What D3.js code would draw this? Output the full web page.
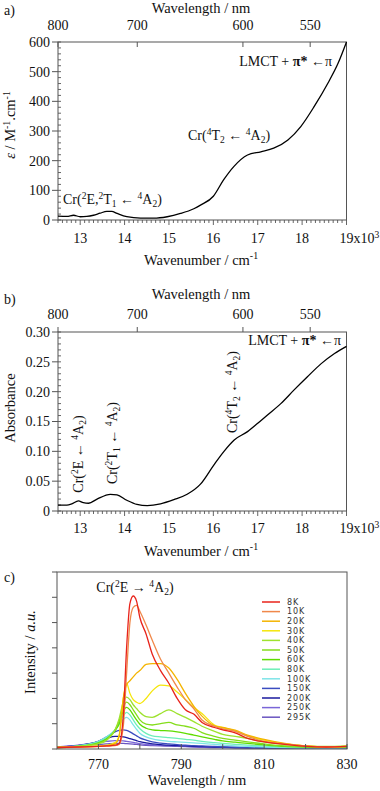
<!DOCTYPE html>
<html><head><meta charset="utf-8">
<script src="https://cdn.jsdelivr.net/npm/d3@7"></script>
<style>html,body{margin:0;padding:0;background:#fff;}svg{display:block;font-family:"Liberation Serif","Times New Roman",serif;}</style>
</head><body>
<svg id="chart" width="380" height="791"></svg>
<script>
// ---------- DATA ----------
const wnTicks = [13, 14, 15, 16, 17, 18, 19];      // 10^3 cm-1
const nmTicks = [800, 700, 600, 550];
const epsTicks = [0, 100, 200, 300, 400, 500, 600];
const absTicks = [0, 0.05, 0.10, 0.15, 0.20, 0.25, 0.30];
const absTickLabels = ["0", "0.05", "0.10", "0.15", "0.20", "0.25", "0.30"];

// panel a: molar absorptivity vs wavenumber (10^3 cm-1)
const epsWn  = [12.5, 12.7, 12.85, 13.0, 13.15, 13.3, 13.45, 13.6, 13.71, 13.83, 14.05, 14.36, 14.66, 14.96, 15.26, 15.56, 15.71, 16.0, 16.23, 16.46, 16.77, 17.07, 17.36, 17.68, 17.97, 18.27, 18.58, 18.81, 19.0];
const epsVal = [13, 12, 16, 11, 12, 16, 23, 29, 29, 22, 11, 6, 6, 11, 22, 38, 50, 80, 135, 180, 219, 230, 242, 270, 315, 382, 461, 528, 600];

// panel b: absorbance vs wavenumber
const absWn  = [12.5, 12.7, 12.81, 12.96, 13.07, 13.19, 13.38, 13.68, 13.83, 14.05, 14.28, 14.51, 14.81, 15.11, 15.41, 15.71, 16.01, 16.24, 16.47, 16.77, 17.0, 17.22, 17.52, 17.82, 18.12, 18.43, 18.73, 19.0];
const absVal = [0.010, 0.010, 0.012, 0.017, 0.014, 0.013, 0.020, 0.028, 0.027, 0.018, 0.011, 0.009, 0.012, 0.019, 0.028, 0.045, 0.077, 0.100, 0.119, 0.133, 0.147, 0.161, 0.180, 0.203, 0.225, 0.247, 0.264, 0.276];

// panel c: emission spectra
const wlTicks = [770, 790, 810, 830];
const wlMinor = [770, 780, 790, 800, 810, 820, 830];
const intTicks = [0, 1, 2, 3, 4, 5, 6, 7];
const wl = [760, 765, 770, 772, 774, 775, 776, 776.8, 777.6, 778.4, 779.2, 780, 781.5, 783, 785, 787, 789, 791, 793, 795, 798, 800, 803, 806, 810, 815, 820, 825, 830];
const temps = ["8K", "10K", "20K", "30K", "40K", "50K", "60K", "80K", "100K", "150K", "200K", "250K", "295K"];
const tempColors = ["#e8231b", "#f0884a", "#f4b400", "#f5e60a", "#9ee22e", "#84dd1c", "#5fdc00", "#6cefb8", "#7fe4e8", "#3b4cc0", "#1a1a9e", "#7a66d8", "#6a55c0"];
const I8K   = [0.06,0.08,0.10,0.12,0.15,0.22,1.30,4.00,5.75,6.05,5.85,5.20,4.55,3.75,3.10,2.60,2.00,1.55,1.38,1.05,0.85,0.76,0.64,0.42,0.28,0.18,0.10,0.08,0.10];
const I10K  = [0.06,0.08,0.10,0.11,0.13,0.18,0.90,3.00,5.00,5.60,5.68,5.45,4.90,4.30,3.55,3.00,2.45,1.95,1.60,1.15,0.90,0.80,0.70,0.50,0.30,0.20,0.12,0.08,0.10];
const I20K  = [0.06,0.08,0.10,0.13,0.20,0.50,2.00,2.55,2.70,2.85,3.00,3.10,3.35,3.38,3.38,3.20,2.75,2.20,1.70,1.30,0.92,0.85,0.75,0.55,0.38,0.22,0.12,0.08,0.10];
const I30K  = [0.06,0.08,0.12,0.15,0.25,0.55,2.00,2.60,2.20,1.95,1.85,1.80,2.00,2.30,2.53,2.50,2.25,1.95,1.65,1.40,0.95,0.85,0.72,0.52,0.35,0.20,0.12,0.08,0.10];
const I40K  = [0.06,0.10,0.20,0.35,0.75,1.20,1.85,2.05,1.95,1.75,1.60,1.45,1.28,1.25,1.40,1.55,1.40,1.25,1.08,0.90,0.70,0.58,0.50,0.42,0.28,0.18,0.12,0.10,0.12];
const I50K  = [0.06,0.10,0.22,0.38,0.75,1.10,1.65,1.85,1.75,1.55,1.35,1.15,0.98,0.95,1.00,1.05,0.95,0.90,0.82,0.65,0.50,0.42,0.35,0.28,0.20,0.12,0.09,0.08,0.10];
const I60K  = [0.06,0.10,0.24,0.40,0.72,1.00,1.50,1.65,1.55,1.35,1.15,0.98,0.82,0.76,0.73,0.72,0.68,0.62,0.55,0.48,0.38,0.32,0.27,0.22,0.16,0.10,0.08,0.07,0.08];
const I80K  = [0.06,0.12,0.28,0.45,0.75,1.00,1.32,1.45,1.35,1.15,0.95,0.80,0.62,0.52,0.48,0.45,0.42,0.38,0.35,0.30,0.25,0.22,0.18,0.15,0.12,0.08,0.07,0.06,0.07];
const I100K = [0.06,0.12,0.30,0.48,0.75,0.95,1.18,1.25,1.15,0.95,0.78,0.62,0.48,0.40,0.34,0.30,0.28,0.26,0.24,0.22,0.18,0.15,0.12,0.10,0.08,0.06,0.05,0.05,0.05];
const I150K = [0.05,0.10,0.30,0.48,0.68,0.74,0.76,0.74,0.68,0.60,0.52,0.44,0.35,0.28,0.23,0.20,0.17,0.15,0.13,0.12,0.10,0.08,0.07,0.06,0.05,0.05,0.04,0.04,0.05];
const I200K = [0.07,0.13,0.30,0.42,0.50,0.50,0.48,0.45,0.41,0.37,0.33,0.29,0.24,0.20,0.17,0.15,0.13,0.12,0.10,0.09,0.08,0.07,0.06,0.05,0.05,0.04,0.04,0.04,0.04];
const I250K = [0.08,0.15,0.25,0.30,0.33,0.33,0.32,0.30,0.28,0.26,0.24,0.21,0.18,0.16,0.14,0.12,0.11,0.10,0.09,0.08,0.07,0.06,0.05,0.05,0.04,0.04,0.04,0.04,0.04];
const I295K = [0.08,0.12,0.18,0.20,0.22,0.22,0.22,0.21,0.20,0.19,0.18,0.16,0.14,0.13,0.12,0.11,0.10,0.09,0.08,0.07,0.06,0.06,0.05,0.05,0.04,0.04,0.04,0.04,0.04];
const intensities = [I8K, I10K, I20K, I30K, I40K, I50K, I60K, I80K, I100K, I150K, I200K, I250K, I295K];

// ---------- DRAW ----------
const svg = d3.select("#chart");
const SERIF = "Liberation Serif";
const SANS = "DejaVu Sans";
const AX = "#555";

// rich text: {^x} superscript, {_x} subscript, {*x} bold, {/x} italic
function rich(sel, str, size) {
  const re = /\{([\^_*\/])([^}]*)\}/g;
  let last = 0, m, cur = 0;
  const parts = [];
  while ((m = re.exec(str)) !== null) {
    if (m.index > last) parts.push({t: str.slice(last, m.index), k: ""});
    parts.push({t: m[2], k: m[1]});
    last = re.lastIndex;
  }
  if (last < str.length) parts.push({t: str.slice(last), k: ""});
  parts.forEach(p => {
    let off = 0, fs = size, fw = null, fst = null;
    if (p.k === "^") { off = -size * 0.38; fs = size * 0.68; }
    if (p.k === "_") { off = size * 0.22; fs = size * 0.68; }
    if (p.k === "*") fw = "bold";
    if (p.k === "/") fst = "italic";
    const ts = sel.append("tspan").attr("dy", (off - cur).toFixed(2)).attr("font-size", fs).text(p.t);
    if (fw) ts.attr("font-weight", fw);
    if (fst) ts.attr("font-style", fst);
    cur = off;
  });
  return sel;
}
function txt(x, y, str, size, anchor, rot) {
  const t = svg.append("text")
    .attr("font-family", SERIF).attr("font-size", size).attr("fill", "#111")
    .attr("text-anchor", anchor || "start");
  if (rot) t.attr("transform", `translate(${x},${y}) rotate(${rot})`).attr("x", 0).attr("y", 0);
  else t.attr("x", x).attr("y", y);
  rich(t, str, size);
  return t;
}

function absorptionPanel(cfg) {
  const {L, R, T, B, yDomain, yTicks, yLabels, yMinorStep, xs, ys, label, yTitle} = cfg;
  const x = d3.scaleLinear().domain([12.5, 19]).range([L, R]);
  const y = d3.scaleLinear().domain(yDomain).range([B, T]);
  const g = svg.append("g");
  g.append("rect").attr("x", L).attr("y", T).attr("width", R - L).attr("height", B - T)
    .attr("fill", "none").attr("stroke", AX).attr("stroke-width", 1);
  const minor = d3.range(125, 191).map(v => v / 10);
  g.selectAll(null).data(minor).enter().append("line")
    .attr("x1", d => x(d)).attr("x2", d => x(d)).attr("y1", B)
    .attr("y2", d => B + (Math.abs(d - Math.round(d)) < 1e-6 ? 5 : 3))
    .attr("stroke", AX).attr("stroke-width", 0.9);
  wnTicks.forEach(t => {
    const tx = svg.append("text").attr("font-family", SERIF).attr("font-size", 14).attr("fill", "#111")
      .attr("y", cfg.xLabelY);
    if (t === 19) { tx.attr("x", x(t) - 7).attr("text-anchor", "start"); rich(tx, "19x10{^3}", 14); }
    else tx.attr("x", x(t)).attr("text-anchor", "middle").text(t);
  });
  const yMin = d3.range(yDomain[0], yDomain[1] + yMinorStep / 2, yMinorStep);
  g.selectAll(null).data(yMin).enter().append("line")
    .attr("x1", L).attr("x2", L + 3).attr("y1", d => y(d)).attr("y2", d => y(d))
    .attr("stroke", AX).attr("stroke-width", 0.9);
  yTicks.forEach((t, i) => {
    g.append("line").attr("x1", L - 6).attr("x2", L).attr("y1", y(t)).attr("y2", y(t))
      .attr("stroke", AX).attr("stroke-width", 1);
    svg.append("text").attr("font-family", SERIF).attr("font-size", 14).attr("fill", "#111")
      .attr("x", L - 8).attr("y", y(t)).attr("dy", "0.35em").attr("text-anchor", "end").text(yLabels[i]);
  });
  nmTicks.forEach(n => {
    const px = x(1e4 / n);
    g.append("line").attr("x1", px).attr("x2", px).attr("y1", T).attr("y2", T + cfg.topTickDir * 5)
      .attr("stroke", AX).attr("stroke-width", 1);
    svg.append("text").attr("font-family", SERIF).attr("font-size", 14).attr("fill", "#111")
      .attr("x", px).attr("y", cfg.topLabelY).attr("text-anchor", "middle").text(n);
  });
  const pts = xs.map((v, i) => [v, ys[i]]);
  g.append("path").datum(pts)
    .attr("d", d3.line().x(d => x(d[0])).y(d => y(d[1])).curve(d3.curveMonotoneX))
    .attr("fill", "none").attr("stroke", "#000").attr("stroke-width", 1.3);
  txt(4, cfg.panelLabelY, label, 14, "start");
  txt(201, cfg.topTitleY, "Wavelength / nm", 14.5, "middle");
  txt(201, cfg.bottomTitleY, "Wavenumber / cm{^-1}", 14.5, "middle");
  txt(cfg.yTitleX, cfg.yTitleY, yTitle, 14.5, "middle", -90);
  return {x, y};
}

// Panel a
absorptionPanel({
  L: 58, R: 346.5, T: 42, B: 220, yDomain: [0, 600], yTicks: epsTicks,
  yLabels: epsTicks.map(String), yMinorStep: 20, xs: epsWn, ys: epsVal,
  label: "a)", yTitle: "{/ε} / M{^-1}.cm{^-1}", topTickDir: 1,
  xLabelY: 243, topLabelY: 30, panelLabelY: 15, topTitleY: 13, bottomTitleY: 265,
  yTitleX: 15, yTitleY: 125
});
txt(332, 66, "LMCT + {*π*} ←π", 14, "end");
txt(188, 140, "Cr({^4}T{_2} ← {^4}A{_2})", 14, "start");
txt(63, 204, "Cr({^2}E,{^2}T{_1} ← {^4}A{_2})", 14, "start");

// Panel b
absorptionPanel({
  L: 58, R: 346.5, T: 332, B: 511, yDomain: [0, 0.30], yTicks: absTicks,
  yLabels: absTickLabels, yMinorStep: 0.01, xs: absWn, ys: absVal,
  label: "b)", yTitle: "Absorbance", topTickDir: -1,
  xLabelY: 533, topLabelY: 319, panelLabelY: 304, topTitleY: 299, bottomTitleY: 556,
  yTitleX: 15, yTitleY: 408
});
txt(341, 345, "LMCT + {*π*} ←π", 14, "end");
txt(83, 454, "Cr({^2}E ← {^4}A{_2})", 14, "middle", -90);
txt(117, 443, "Cr({^2}T{_1} ← {^4}A{_2})", 14, "middle", -90);
txt(237, 392, "Cr({^4}T{_2} ← {^4}A{_2})", 14, "middle", -90);

// Panel c
(function () {
  const L = 57, R = 347, T = 572, B = 749;
  const x = d3.scaleLinear().domain([760, 830]).range([L, R]);
  const y = d3.scaleLinear().domain([0, 7]).range([B, T]);
  const g = svg.append("g");
  svg.append("clipPath").attr("id", "clipc").append("rect")
    .attr("x", L).attr("y", T).attr("width", R - L).attr("height", B - T);
  const line = d3.line().x((d, i) => x(wl[i])).y(d => y(d)).curve(d3.curveMonotoneX);
  const order = d3.range(intensities.length).reverse();
  g.append("g").attr("clip-path", "url(#clipc)").selectAll("path").data(order).enter().append("path")
    .attr("d", i => line(intensities[i]))
    .attr("fill", "none").attr("stroke", i => tempColors[i]).attr("stroke-width", 1.3);
  g.append("rect").attr("x", L).attr("y", T).attr("width", R - L).attr("height", B - T)
    .attr("fill", "none").attr("stroke", AX).attr("stroke-width", 1);
  intTicks.forEach(t => {
    g.append("line").attr("x1", L - 5).attr("x2", L).attr("y1", y(t)).attr("y2", y(t))
      .attr("stroke", AX).attr("stroke-width", 1);
  });
  wlMinor.forEach(t => {
    g.append("line").attr("x1", x(t)).attr("x2", x(t)).attr("y1", B).attr("y2", B - 5)
      .attr("stroke", AX).attr("stroke-width", 1);
  });
  wlTicks.forEach(t => {
    svg.append("text").attr("font-family", SERIF).attr("font-size", 14).attr("fill", "#111")
      .attr("x", x(t)).attr("y", 769).attr("text-anchor", "middle").text(t);
  });
  temps.forEach((tk, i) => {
    const ly = 602 + i * 9.6;
    g.append("line").attr("x1", 262).attr("x2", 280).attr("y1", ly).attr("y2", ly)
      .attr("stroke", tempColors[i]).attr("stroke-width", 1.5);
    svg.append("text").attr("font-family", SANS).attr("font-size", 8).attr("letter-spacing", 0.9)
      .attr("fill", "#333").attr("x", 287).attr("y", ly).attr("dy", "0.36em").text(tk);
  });
  txt(4, 582, "c)", 14, "start");
  txt(135, 592, "Cr({^2}E → {^4}A{_2})", 14, "middle");
  txt(197, 785, "Wavelength / nm", 14.5, "middle");
  txt(35, 652, "Intensity / {/a.u.}", 14.5, "middle", -90);
})();
</script>
</body></html>
